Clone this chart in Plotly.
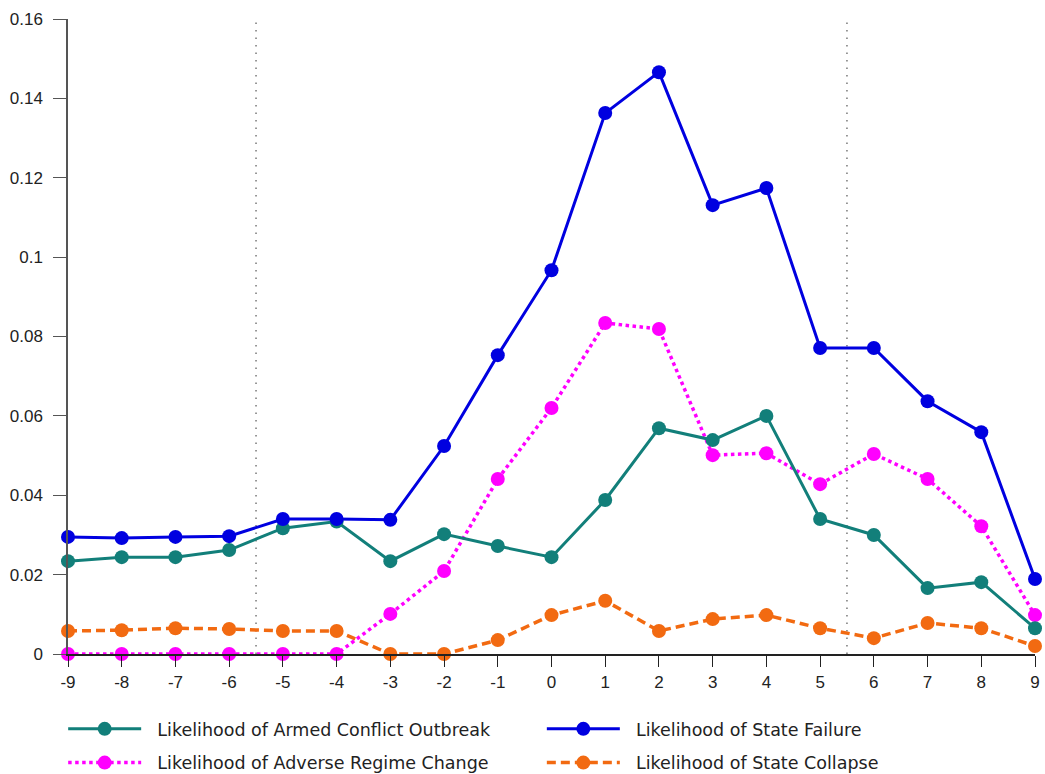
import plotly.graph_objects as go

years = [-9, -8, -7, -6, -5, -4, -3, -2, -1, 0, 1, 2, 3, 4, 5, 6, 7, 8, 9]
year_labels = ["-9", "-8", "-7", "-6", "-5", "-4", "-3", "-2", "-1", "0",
               "1", "2", "3", "4", "5", "6", "7", "8", "9"]

armed_conflict = [0.0234, 0.0244, 0.0244, 0.0262, 0.0317, 0.0334, 0.0234, 0.0302, 0.0272, 0.0244,
                  0.0388, 0.0569, 0.0539, 0.0600, 0.0340, 0.0300, 0.0166, 0.0181, 0.0065]
state_failure = [0.0295, 0.0292, 0.0295, 0.0297, 0.0340, 0.0340, 0.0338, 0.0524, 0.0753, 0.0967,
                 0.1363, 0.1466, 0.1131, 0.1174, 0.0771, 0.0771, 0.0637, 0.0559, 0.0189]
regime_change = [0, 0, 0, 0, 0, 0, 0.0101, 0.0209, 0.0441, 0.0620,
                 0.0834, 0.0819, 0.0501, 0.0506, 0.0428, 0.0504, 0.0441, 0.0322, 0.0098]
state_collapse = [0.0058, 0.0060, 0.0065, 0.0063, 0.0058, 0.0058, 0, 0, 0.0035, 0.0098,
                  0.0134, 0.0058, 0.0088, 0.0098, 0.0065, 0.0040, 0.0078, 0.0065, 0.0020]

y_ticks = [0, 0.02, 0.04, 0.06, 0.08, 0.1, 0.12, 0.14, 0.16]
y_labels = ["0", "0.02", "0.04", "0.06", "0.08", "0.1", "0.12", "0.14", "0.16"]
window = [-5.5, 5.5]

fig = go.Figure()

def add_series(y, name, color, dash, width, legend, rank):
    fig.add_trace(go.Scatter(
        x=years, y=y, name="\u00a0\u00a0" + name, mode="lines+markers",
        line=dict(color=color, width=width, dash=dash),
        marker=dict(color=color, size=14),
        cliponaxis=False, legend=legend, legendgroup=name, legendrank=rank,
    ))

add_series(state_collapse, "Likelihood of State Collapse", "#f26a11", "9px,5px", 3.5, "legend2", 2)
add_series(regime_change, "Likelihood of Adverse Regime Change", "#ff00ff", "3.5px,3.5px", 3.5, "legend", 2)
add_series(armed_conflict, "Likelihood of Armed Conflict Outbreak", "#127f7a", "solid", 3, "legend", 1)
add_series(state_failure, "Likelihood of State Failure", "#0000e0", "solid", 3, "legend2", 1)

for xv in window:
    fig.add_shape(type="line", x0=xv, x1=xv, y0=0, y1=0.16, xref="x", yref="y",
                  line=dict(color="#333", width=1, dash="1.5px,6px"), layer="below")

# legends placed against the page (container) so they don't push the plot margins
legend_style = dict(font=dict(family="DejaVu Sans", size=17.5, color="#222"),
                    itemwidth=73, yref="container", yanchor="top", y=0.0814, xanchor="left",
                    tracegroupgap=8, bgcolor="rgba(0,0,0,0)", traceorder="grouped")

fig.update_layout(
    width=1045, height=774,
    margin=dict(l=68, r=5, t=19, b=120),
    plot_bgcolor="white", paper_bgcolor="white",
    font=dict(family="Liberation Sans, Arial", size=17, color="#222"),
    showlegend=True,
    legend=dict(x=-0.005, **legend_style),
    legend2=dict(x=0.49, **legend_style),
    xaxis=dict(range=[-9, 9], tickvals=years, ticktext=year_labels, showgrid=False,
               zeroline=False, showline=True, linecolor="#222", linewidth=1.5,
               ticks="outside", ticklen=11, tickcolor="#222", ticklabelstandoff=1,
               tickfont=dict(size=17)),
    yaxis=dict(range=[0, 0.16], tickvals=y_ticks, ticktext=y_labels, showgrid=False,
               zeroline=False, showline=True, linecolor="#555", linewidth=1.5,
               ticks="outside", ticklen=13, tickcolor="#555", ticklabelstandoff=7,
               tickfont=dict(size=17)),
)

# drop the default 8px body margin so the figure sits at the page corner
fig.write_html("out.html", config={"displayModeBar": False},
               post_script="document.body.style.margin='0';document.body.style.overflow='hidden';")
